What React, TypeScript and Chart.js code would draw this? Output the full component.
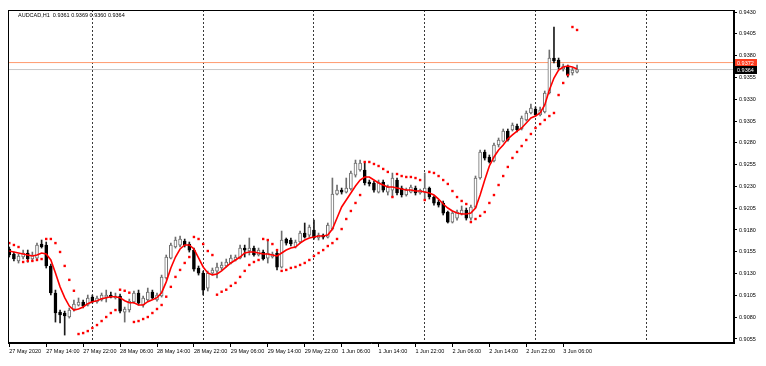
import React, { useEffect, useRef } from 'react';
import { Chart, registerables } from 'chart.js';

Chart.register(...registerables);

const header = 'AUDCAD,H1  0.9361 0.9369 0.9360 0.9364';

const timeLabels = [
  '27 May 2020', '27 May 14:00', '27 May 22:00', '28 May 06:00', '28 May 14:00', '28 May 22:00',
  '29 May 06:00', '29 May 14:00', '29 May 22:00', '1 Jun 06:00', '1 Jun 14:00', '1 Jun 22:00',
  '2 Jun 06:00', '2 Jun 14:00', '2 Jun 22:00', '3 Jun 06:00',
];
const labelBars = [0, 8, 16, 24, 32, 40, 48, 56, 64, 72, 80, 88, 96, 104, 112, 120];
const daySeparatorBars = [18, 42, 66, 90, 114, 138];
const priceTicks = [
  0.9055, 0.908, 0.9105, 0.913, 0.9155, 0.918, 0.9205, 0.923, 0.9255, 0.928, 0.9305, 0.933,
  0.9355, 0.938, 0.9405, 0.943,
];
const askPrice = 0.9372;
const bidPrice = 0.9364;

const opens = [
  0.91582, 0.91524, 0.91444, 0.9149, 0.91536, 0.91467, 0.91478, 0.91639, 0.91627, 0.91387,
  0.91077, 0.90859, 0.90848, 0.90802, 0.90893, 0.90939, 0.90974, 0.90939, 0.91031, 0.90974,
  0.90997, 0.91031, 0.91054, 0.9102, 0.91043, 0.90859, 0.90882, 0.90974, 0.91077, 0.90939,
  0.90997, 0.91088, 0.90997, 0.91043, 0.91249, 0.91478, 0.91605, 0.91627, 0.91673, 0.91639,
  0.9157, 0.91364, 0.91306, 0.91134, 0.91306, 0.91329, 0.91364, 0.91387, 0.91421, 0.91455,
  0.91478, 0.91593, 0.91559, 0.91593, 0.91513, 0.91547, 0.91478, 0.9149, 0.91536, 0.91375,
  0.91696, 0.91685, 0.91605, 0.91662, 0.91765, 0.91742, 0.918, 0.91708, 0.91742, 0.91719,
  0.91811, 0.92212, 0.92258, 0.92235, 0.9227, 0.9243, 0.92488, 0.92488, 0.9235, 0.92339,
  0.92235, 0.9235, 0.92235, 0.92258, 0.92373, 0.92281, 0.92201, 0.92235, 0.92281, 0.92224,
  0.92235, 0.92281, 0.92178, 0.9212, 0.92109, 0.92006, 0.91891, 0.91937, 0.91983, 0.92029,
  0.91937, 0.92063, 0.92396, 0.92694, 0.92637, 0.92591, 0.92775, 0.9282, 0.92935, 0.92947,
  0.92993, 0.92958, 0.93061, 0.93142, 0.93188, 0.93119, 0.93153, 0.93371, 0.93772, 0.93749,
  0.93646, 0.93669, 0.936, 0.9361,
];
const highs = [
  0.91605, 0.91547, 0.91524, 0.9157, 0.9157, 0.91547, 0.9165, 0.91685, 0.91662, 0.9141,
  0.91111, 0.90882, 0.9087, 0.90905, 0.90997, 0.9102, 0.90997, 0.91054, 0.91054, 0.91043,
  0.91077, 0.91111, 0.91088, 0.91077, 0.91065, 0.90916, 0.91008, 0.911, 0.91111, 0.91043,
  0.91134, 0.91111, 0.91077, 0.91283, 0.91513, 0.9165, 0.91719, 0.9173, 0.91696, 0.91662,
  0.91593, 0.91387, 0.91329, 0.91329, 0.91364, 0.91421, 0.91432, 0.91467, 0.91513, 0.91513,
  0.91627, 0.91627, 0.91708, 0.91616, 0.91593, 0.9157, 0.91685, 0.91547, 0.91559, 0.91788,
  0.91708, 0.91708, 0.91685, 0.91788, 0.9188, 0.91857, 0.91914, 0.91765, 0.91754, 0.9188,
  0.92396, 0.92316, 0.92281, 0.92396, 0.92476, 0.92602, 0.92602, 0.92568, 0.92373, 0.92362,
  0.92373, 0.92373, 0.92316, 0.92453, 0.92396, 0.92304, 0.92281, 0.92316, 0.92304, 0.9227,
  0.92453, 0.92293, 0.92189, 0.92144, 0.92132, 0.92017, 0.92017, 0.92029, 0.92075, 0.92052,
  0.92086, 0.92419, 0.92717, 0.92717, 0.9266, 0.92797, 0.92855, 0.92958, 0.92958, 0.93027,
  0.93016, 0.93107, 0.93165, 0.93245, 0.93211, 0.93211, 0.93394, 0.93864, 0.94128, 0.93772,
  0.93703, 0.93692, 0.93658, 0.9369,
];
const lows = [
  0.9149, 0.91444, 0.91421, 0.91467, 0.91432, 0.91444, 0.91455, 0.91593, 0.91364, 0.91054,
  0.90744, 0.90733, 0.90595, 0.9079, 0.9087, 0.90928, 0.90905, 0.90928, 0.90962, 0.90962,
  0.90985, 0.90974, 0.9102, 0.91008, 0.90848, 0.90744, 0.90859, 0.90962, 0.90939, 0.90916,
  0.90985, 0.91008, 0.90985, 0.91031, 0.91237, 0.91467, 0.91593, 0.91605, 0.91605, 0.91547,
  0.91329, 0.91283, 0.91054, 0.911, 0.91283, 0.91249, 0.91341, 0.91375, 0.9141, 0.91444,
  0.91467, 0.9149, 0.91513, 0.91501, 0.91501, 0.91455, 0.91421, 0.91478, 0.91341, 0.91364,
  0.91627, 0.91616, 0.91593, 0.9165, 0.91708, 0.91719, 0.91696, 0.91685, 0.91696, 0.91708,
  0.918, 0.92201, 0.92212, 0.92224, 0.92258, 0.92407, 0.92476, 0.92316, 0.92304, 0.92235,
  0.92224, 0.92235, 0.92201, 0.92178, 0.92201, 0.92178, 0.92189, 0.92224, 0.92201, 0.92212,
  0.92144, 0.92155, 0.92086, 0.92063, 0.91972, 0.9188, 0.9188, 0.91914, 0.91972, 0.91914,
  0.91914, 0.92052, 0.92384, 0.92602, 0.92568, 0.9258, 0.92752, 0.92809, 0.9282, 0.92935,
  0.92924, 0.92947, 0.9305, 0.9313, 0.93107, 0.93107, 0.93142, 0.9336, 0.93715, 0.93646,
  0.93623, 0.93554, 0.93577, 0.936,
];
const closes = [
  0.91513, 0.91467, 0.91501, 0.91536, 0.91467, 0.91513, 0.91627, 0.91605, 0.91387, 0.91077,
  0.90848, 0.90825, 0.90814, 0.90882, 0.90951, 0.90974, 0.90928, 0.9102, 0.90974, 0.9102,
  0.91054, 0.91054, 0.91031, 0.91043, 0.9087, 0.90893, 0.90985, 0.91077, 0.90962, 0.9102,
  0.91088, 0.9102, 0.91054, 0.9126, 0.9149, 0.91627, 0.91685, 0.91696, 0.91627, 0.9157,
  0.91352, 0.91306, 0.91111, 0.91306, 0.91341, 0.91375, 0.91398, 0.91432, 0.91478, 0.9149,
  0.91593, 0.9157, 0.91593, 0.91513, 0.9157, 0.91467, 0.91536, 0.91524, 0.91375, 0.91685,
  0.9165, 0.91639, 0.91662, 0.91765, 0.91719, 0.91834, 0.91708, 0.91742, 0.91719, 0.91857,
  0.92212, 0.92258, 0.92235, 0.92281, 0.92453, 0.92568, 0.92568, 0.92339, 0.92327, 0.92258,
  0.9235, 0.92258, 0.92293, 0.92396, 0.92224, 0.92201, 0.92258, 0.92293, 0.92224, 0.92258,
  0.92281, 0.92178, 0.92109, 0.92086, 0.91994, 0.91891, 0.91994, 0.92006, 0.92029, 0.91937,
  0.92063, 0.92396, 0.92694, 0.92625, 0.9258, 0.92775, 0.92832, 0.92935, 0.92832, 0.93004,
  0.92947, 0.93084, 0.93142, 0.93199, 0.93119, 0.93176, 0.93371, 0.93772, 0.93738, 0.93669,
  0.9368, 0.93577, 0.93635, 0.9364,
];
const maValues = [
  0.91559, 0.91548, 0.91536, 0.91525, 0.91513, 0.91502, 0.91513, 0.91536, 0.91525, 0.91456,
  0.91308, 0.91148, 0.91024, 0.90928, 0.90882, 0.90894, 0.90917, 0.90955, 0.90978, 0.90989,
  0.91012, 0.91024, 0.91035, 0.91035, 0.91024, 0.90989, 0.90966, 0.90966, 0.9094, 0.9094,
  0.90978, 0.91001, 0.91024, 0.91081, 0.91205, 0.91365, 0.9149, 0.91582, 0.91628, 0.91628,
  0.91582, 0.91479, 0.91376, 0.91308, 0.91285, 0.91296, 0.91331, 0.91376, 0.91422, 0.91456,
  0.9149, 0.91536, 0.91548, 0.91548, 0.91536, 0.91525, 0.91525, 0.91513, 0.91502, 0.91536,
  0.9157, 0.91593, 0.91605, 0.9165, 0.91685, 0.91708, 0.9172, 0.91731, 0.91731, 0.91743,
  0.91811, 0.91937, 0.92064, 0.92144, 0.92224, 0.92304, 0.92373, 0.92408, 0.92408, 0.92373,
  0.92339, 0.92316, 0.92293, 0.92293, 0.92282, 0.9227, 0.92259, 0.92259, 0.92247, 0.92247,
  0.92236, 0.92224, 0.92201, 0.92155, 0.92098, 0.92052, 0.92018, 0.91995, 0.91983, 0.91983,
  0.91995, 0.92052, 0.92201, 0.92373, 0.92534, 0.92637, 0.92718, 0.92775, 0.92844, 0.9289,
  0.92935, 0.9297, 0.93027, 0.93084, 0.93107, 0.93142, 0.93234, 0.93405, 0.93543, 0.93635,
  0.93669, 0.93681, 0.93669, 0.93647,
];
const sarValues = [
  0.9165, 0.91628, 0.91605, 0.91433, 0.91445, 0.91445, 0.91456, 0.91467, 0.91697, 0.91697,
  0.9165, 0.91548, 0.91388, 0.91228, 0.91103, 0.90607, 0.90618, 0.90641, 0.90676, 0.9071,
  0.90756, 0.90802, 0.90848, 0.90882, 0.91115, 0.91103, 0.91081, 0.90745, 0.90756, 0.90779,
  0.90802, 0.90848, 0.90894, 0.9094, 0.91035, 0.91148, 0.91262, 0.91342, 0.91422, 0.9149,
  0.9172, 0.91697, 0.91639, 0.91559, 0.91513, 0.91058, 0.91092, 0.91115, 0.91159, 0.91193,
  0.91262, 0.91331, 0.91399, 0.91433, 0.91456, 0.91697, 0.91685, 0.91639, 0.9157, 0.91331,
  0.91342, 0.91365, 0.91376, 0.91399, 0.91422, 0.91456, 0.91502, 0.91536, 0.9157, 0.91616,
  0.9165, 0.91697, 0.91811, 0.91926, 0.92018, 0.9211, 0.92201, 0.9258, 0.9258, 0.92557,
  0.92534, 0.925, 0.92466, 0.92178, 0.92442, 0.92419, 0.92408, 0.92408, 0.92396, 0.92373,
  0.92144, 0.92466, 0.92454, 0.92419, 0.92373, 0.92328, 0.92247, 0.92178, 0.92133, 0.92098,
  0.91891, 0.91926, 0.91962, 0.92006, 0.9211, 0.92201, 0.92316, 0.92419, 0.92523, 0.92626,
  0.92695, 0.92763, 0.92832, 0.92901, 0.9297, 0.93015, 0.93062, 0.93107, 0.93142, 0.93348,
  0.93486, 0.93578, 0.94128, 0.94094,
];

const X_MIN = -0.28;
const X_MAX = 157;
const FONT = { family: 'Liberation Sans', size: 5.5 };

export default function App() {
  const ref = useRef<HTMLCanvasElement | null>(null);

  useEffect(() => {
    document.body.style.margin = '0';
    const canvas = ref.current;
    if (!canvas) return;
    const idx = opens.map((_, i) => i);
    const isBull = (i: number) => closes[i] >= opens[i];

    const overlay = {
      id: 'mtOverlay',
      afterDraw(chart: any) {
        const { ctx, chartArea, scales } = chart;
        ctx.save();
        ctx.strokeStyle = '#000';
        ctx.lineWidth = 1;
        ctx.strokeRect(
          Math.round(chartArea.left) + 0.5,
          Math.round(chartArea.top) + 0.5,
          Math.round(chartArea.right - chartArea.left) - 1,
          Math.round(chartArea.bottom - chartArea.top) - 1,
        );
        ctx.font = `${FONT.size}px "${FONT.family}"`;
        ctx.textBaseline = 'middle';
        ctx.textAlign = 'left';
        ctx.fillStyle = '#000';
        ctx.fillText(header, chartArea.left + 10, chartArea.top + 5);
        const boxes = [
          { price: askPrice, bg: '#ff3d1f' },
          { price: bidPrice, bg: '#000000' },
        ];
        boxes.forEach((b) => {
          const y = scales.y.getPixelForValue(b.price);
          ctx.fillStyle = b.bg;
          ctx.fillRect(chartArea.right + 1, Math.round(y) - 4, 22, 8);
          ctx.fillStyle = '#fff';
          ctx.fillText(b.price.toFixed(4), chartArea.right + 3, Math.round(y));
        });
        ctx.restore();
      },
    };

    const chart = new Chart(canvas, {
      type: 'bar',
      data: {
        datasets: [
          {
            type: 'line',
            label: 'ask',
            data: [{ x: X_MIN, y: askPrice }, { x: X_MAX, y: askPrice }],
            borderColor: '#ff9a6e',
            borderWidth: 1,
            pointRadius: 0,
            order: 7,
          } as any,
          {
            type: 'line',
            label: 'bid',
            data: [{ x: X_MIN, y: bidPrice }, { x: X_MAX, y: bidPrice }],
            borderColor: '#c8c8c8',
            borderWidth: 1,
            pointRadius: 0,
            order: 6,
          } as any,
          {
            type: 'bar',
            label: 'wick',
            data: idx.map((i) => ({ x: i, y: [lows[i], highs[i]] })),
            backgroundColor: idx.map((i) => (isBull(i) ? '#6e6e6e' : '#1a1a1a')),
            borderWidth: 0,
            barThickness: 1,
            grouped: false,
            order: 5,
          } as any,
          {
            type: 'bar',
            label: 'body',
            data: idx.map((i) => ({ x: i, y: [opens[i], closes[i]] })),
            backgroundColor: idx.map((i) => (isBull(i) ? '#ffffff' : '#000000')),
            borderColor: idx.map((i) => (isBull(i) ? '#6e6e6e' : '#000000')),
            borderWidth: 1,
            borderSkipped: false,
            barThickness: 3,
            grouped: false,
            order: 4,
          } as any,
          {
            type: 'line',
            label: 'MA',
            data: idx.map((i) => ({ x: i, y: maValues[i] })),
            borderColor: '#ff0000',
            borderWidth: 1.6,
            pointRadius: 0,
            tension: 0,
            order: 2,
          } as any,
          {
            type: 'line',
            label: 'SAR',
            data: idx.map((i) => ({ x: i, y: sarValues[i] })),
            showLine: false,
            pointStyle: 'rect',
            pointRadius: 1.7,
            pointBackgroundColor: '#ff0000',
            pointBorderWidth: 0,
            order: 1,
          } as any,
        ],
      },
      options: {
        animation: false,
        responsive: false,
        maintainAspectRatio: false,
        layout: { padding: { left: 8, top: 10, right: 0, bottom: 0 } },
        plugins: { legend: { display: false }, tooltip: { enabled: false }, title: { display: false } },
        scales: {
          x: {
            type: 'linear',
            min: X_MIN,
            max: X_MAX,
            offset: false,
            afterBuildTicks: (scale: any) => {
              scale.ticks = [...labelBars, ...daySeparatorBars].map((v) => ({ value: v }));
            },
            afterFit: (scale: any) => {
              scale.height = 23;
            },
            ticks: {
              autoSkip: false,
              maxRotation: 0,
              minRotation: 0,
              align: 'start',
              padding: 1,
              color: '#000',
              font: FONT,
              callback: (value: any) => {
                const k = labelBars.indexOf(value);
                return k >= 0 ? timeLabels[k] : '';
              },
            },
            grid: {
              offset: false,
              drawOnChartArea: true,
              lineWidth: 1,
              color: (c: any) =>
                c.tick && daySeparatorBars.includes(c.tick.value) ? '#3a3a3a' : 'rgba(0,0,0,0)',
              tickColor: (c: any) =>
                c.tick && labelBars.includes(c.tick.value) ? '#000' : 'rgba(0,0,0,0)',
              tickLength: 4,
              tickBorderDash: [],
            },
            border: { display: true, color: '#000', dash: [2, 2] },
          },
          y: {
            type: 'linear',
            position: 'right',
            min: 0.90504,
            max: 0.94323,
            beginAtZero: false,
            afterBuildTicks: (scale: any) => {
              scale.ticks = priceTicks.map((v) => ({ value: v }));
            },
            afterFit: (scale: any) => {
              scale.width = 32;
            },
            ticks: {
              padding: 2,
              color: '#000',
              font: FONT,
              callback: (value: any) => Number(value).toFixed(4),
            },
            grid: { drawOnChartArea: false, tickLength: 3, tickColor: '#000' },
            border: { display: true, color: '#000' },
          },
        },
      } as any,
      plugins: [overlay],
    });

    return () => chart.destroy();
  }, []);

  return (
    <canvas ref={ref} width={766} height={366} style={{ display: 'block', width: 766, height: 366 }} />
  );
}
